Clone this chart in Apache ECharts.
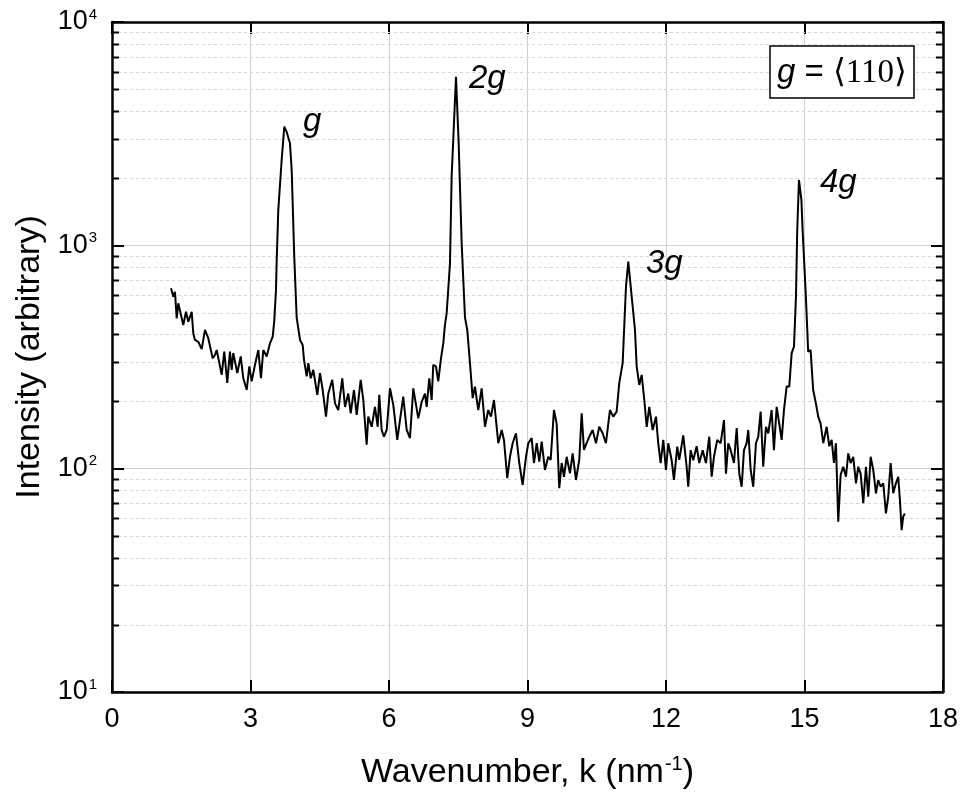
<!DOCTYPE html>
<html>
<head>
<meta charset="utf-8">
<script src="https://cdn.jsdelivr.net/npm/echarts@6/dist/echarts.min.js"></script>
<style>
html,body{margin:0;padding:0;background:#fff;}
#chart{width:962px;height:793px;}
</style>
</head>
<body>
<div id="chart"></div>
<script>
// ---- data ----
const wavenumber = [1.278,1.328,1.364,1.401,1.436,1.473,1.544,1.603,1.653,1.726,1.761,1.797,1.869,1.943,2.014,2.085,2.181,2.231,2.268,2.376,2.432,2.497,2.555,2.593,2.627,2.714,2.788,2.844,2.918,2.974,3.026,3.097,3.169,3.227,3.277,3.351,3.422,3.481,3.515,3.552,3.567,3.602,3.675,3.732,3.784,3.855,3.892,3.948,4.000,4.073,4.130,4.159,4.217,4.252,4.304,4.360,4.447,4.505,4.564,4.635,4.685,4.771,4.830,4.901,4.988,5.047,5.118,5.170,5.241,5.300,5.387,5.443,5.516,5.551,5.625,5.696,5.755,5.789,5.841,5.891,5.950,6.021,6.093,6.179,6.238,6.309,6.383,6.454,6.526,6.634,6.708,6.779,6.816,6.872,6.924,6.959,7.017,7.067,7.126,7.176,7.212,7.249,7.321,7.357,7.451,7.509,7.574,7.646,7.695,7.754,7.812,7.862,7.934,8.007,8.079,8.150,8.209,8.274,8.367,8.441,8.490,8.562,8.620,8.678,8.750,8.822,8.895,8.967,9.017,9.090,9.140,9.199,9.255,9.307,9.378,9.450,9.502,9.573,9.632,9.688,9.740,9.790,9.848,9.920,9.978,10.050,10.121,10.173,10.223,10.281,10.338,10.411,10.483,10.554,10.628,10.699,10.786,10.857,10.931,10.988,11.061,11.133,11.183,11.257,11.328,11.365,11.421,11.473,11.530,11.582,11.638,11.711,11.783,11.832,11.884,11.941,11.999,12.049,12.122,12.172,12.244,12.287,12.374,12.447,12.482,12.534,12.590,12.664,12.720,12.794,12.865,12.937,12.989,13.039,13.110,13.184,13.256,13.299,13.349,13.401,13.472,13.531,13.587,13.639,13.689,13.747,13.782,13.834,13.890,13.948,13.998,14.050,14.106,14.165,14.215,14.288,14.338,14.397,14.453,14.505,14.555,14.613,14.670,14.722,14.772,14.815,14.843,14.880,14.933,14.959,15.030,15.080,15.132,15.188,15.247,15.297,15.349,15.406,15.480,15.536,15.588,15.638,15.681,15.731,15.783,15.839,15.898,15.948,16.000,16.056,16.115,16.164,16.216,16.273,16.331,16.381,16.433,16.489,16.548,16.597,16.649,16.706,16.764,16.814,16.866,16.922,16.980,17.030,17.067,17.104,17.138,17.173];
const intensity = [642,589,620,471,550,552,440,504,455,504,404,377,370,343,418,384,312,323,340,263,334,242,334,277,329,268,318,254,225,287,246,292,340,254,340,318,364,390,460,630,850,1442,2411,3400,3220,2865,2178,889,475,377,358,307,259,297,254,277,214,268,225,171,217,250,196,183,254,189,217,177,225,174,250,203,128,171,154,189,154,214,149,139,149,229,193,134.5,165,210,149,137,229,168,199,217,189,254,203,292,287,246,312,364,440,497,830,2032,5690,2865,1021,475,418,297,207,233,183,229,154,183,171,203,130,149,134.5,90.6,113,130,144,106,84.5,113,130,137,106,130,107.5,132,98.7,113,109.4,183,159,81.7,106,92,113,95.4,117,89,109.4,177,121.3,130,139,149,130,154,144,130,183,171,180,242,297,653,845,589,418,287,237,263,203,154,189,149,171,130,106,134.5,98.7,130,109.4,89,125.5,109.4,141,102,83,121,109,126,106,121,106,139,92,113,134.5,130,165,95,130,121,106,152,95,83,121,130,149,98.7,83,130,139,180,102,154,144,183,121,189,159,134.5,183,233,233,329,352,589,1172,1963,1596,1172,589,334,340,225,196,171,159,130,154,126,134.5,106,130,57.9,93.9,102,92,117,106,113,86,102,95,70,102,75,113,98.7,77.6,89,83,86,63,75,106,77.6,86,92,72.4,53,61,63];
const xTicks = [0, 3, 6, 9, 12, 15, 18];
const minorY = [20,30,40,50,60,70,80,90,200,300,400,500,600,700,800,900,2000,3000,4000,5000,6000,7000,8000,9000];
const peakLabels = ['g', '2g', '3g', '4g'];
const boxLabel = ['g', ' = ', '\u27E8110\u27E9'];
const xName = ['Wavenumber, k (nm', '-1', ')'];
const yName = 'Intensity (arbitrary)';

const X_MIN = xTicks[0], X_MAX = xTicks[xTicks.length - 1];
const FONT = 'Liberation Sans, Arial, sans-serif';
const pts = wavenumber.map((x, i) => [x, intensity[i]]);

const chart = echarts.init(document.getElementById('chart'), null, {renderer: 'canvas'});

const axisLineStyle = {color: '#000', width: 2.5};
const tickStyle = {color: '#000', width: 2};

const option = {
  animation: false,
  backgroundColor: '#fff',
  grid: {left: 112, right: 19, top: 22, bottom: 101, containLabel: false, outerBoundsMode: 'none'},
  xAxis: [{
    type: 'value', min: X_MIN, max: X_MAX, interval: 3, position: 'bottom',
    name: '{a|' + xName[0] + '}{s|' + xName[1] + '}{a|' + xName[2] + '}',
    nameLocation: 'middle', nameGap: 62,
    nameTextStyle: {rich: {
      a: {fontSize: 34, fontFamily: FONT, color: '#000', lineHeight: 38},
      s: {fontSize: 20, fontFamily: FONT, color: '#000', verticalAlign: 'top', lineHeight: 38, padding:[0,0,0,1]}
    }},
    axisLine: {show: true, onZero: false, lineStyle: axisLineStyle},
    axisTick: {show: true, inside: true, length: 12, lineStyle: tickStyle},
    axisLabel: {fontSize: 27, fontFamily: FONT, color: '#000', margin: 14},
    splitLine: {show: true, lineStyle: {color: '#cfcfcf', width: 1}}
  }, {
    type: 'value', min: X_MIN, max: X_MAX, interval: 3, position: 'top',
    axisLine: {show: true, onZero: false, lineStyle: axisLineStyle},
    axisTick: {show: true, inside: true, length: 12, lineStyle: tickStyle},
    axisLabel: {show: false},
    splitLine: {show: false}
  }],
  yAxis: [{
    type: 'log', logBase: 10, min: 10, max: 10000, position: 'left',
    name: yName, nameLocation: 'middle', nameGap: 64, nameRotate: 90,
    nameTextStyle: {fontSize: 34, fontFamily: FONT, color: '#000'},
    axisLine: {show: true, onZero: false, lineStyle: axisLineStyle},
    axisTick: {show: true, inside: true, length: 12, lineStyle: tickStyle},
    axisLabel: {
      margin: 15,
      formatter: v => '{b|10}{s|' + Math.round(Math.log10(v)) + '}',
      rich: {
        b: {fontSize: 27, fontFamily: FONT, color: '#000', lineHeight: 30},
        s: {fontSize: 15, fontFamily: FONT, color: '#000', verticalAlign: 'top', lineHeight: 30, padding: [0,0,0,1]}
      }
    },
    splitLine: {show: true, lineStyle: {color: '#cfcfcf', width: 1}}
  }, {
    type: 'log', logBase: 10, min: 10, max: 10000, position: 'right',
    axisLine: {show: true, onZero: false, lineStyle: axisLineStyle},
    axisTick: {show: true, inside: true, length: 12, lineStyle: tickStyle},
    axisLabel: {show: false},
    splitLine: {show: false}
  }],
  series: [{
    type: 'custom', xAxisIndex: 0, yAxisIndex: 0, silent: true, z: 1, clip: false,
    data: minorY.map(v => [X_MIN, v]),
    renderItem: (params, api) => {
      const v = api.value(1);
      const p0 = api.coord([X_MIN, v]);
      const p1 = api.coord([X_MAX, v]);
      const y = Math.round(p0[1]) + 0.5;
      return {type: 'group', children: [
        {type: 'line', shape: {x1: p0[0], y1: y, x2: p1[0], y2: y}, style: {stroke: '#d6d6d6', lineWidth: 1, lineDash: [3, 3]}},
        {type: 'line', shape: {x1: p0[0], y1: y, x2: p0[0] + 7, y2: y}, style: {stroke: '#000', lineWidth: 2}},
        {type: 'line', shape: {x1: p1[0] - 7, y1: y, x2: p1[0], y2: y}, style: {stroke: '#000', lineWidth: 2}}
      ]};
    }
  }, {
    type: 'line', xAxisIndex: 0, yAxisIndex: 0, data: pts, showSymbol: false, symbol: 'none',
    lineStyle: {color: '#000', width: 2}, z: 5, silent: true
  }],
  graphic: [
    {type: 'text', x: 303, y: 122, z: 10, style: {text: peakLabels[0], fontSize: 33, fontStyle: 'italic', fontFamily: FONT, fill: '#000', align: 'left', verticalAlign: 'middle'}},
    {type: 'text', x: 469, y: 79, z: 10, style: {text: peakLabels[1], fontSize: 33, fontStyle: 'italic', fontFamily: FONT, fill: '#000', align: 'left', verticalAlign: 'middle'}},
    {type: 'text', x: 646, y: 264, z: 10, style: {text: peakLabels[2], fontSize: 33, fontStyle: 'italic', fontFamily: FONT, fill: '#000', align: 'left', verticalAlign: 'middle'}},
    {type: 'text', x: 820, y: 183, z: 10, style: {text: peakLabels[3], fontSize: 33, fontStyle: 'italic', fontFamily: FONT, fill: '#000', align: 'left', verticalAlign: 'middle'}},
    {type: 'rect', z: 10, shape: {x: 770, y: 46, width: 144, height: 52}, style: {fill: '#fff', stroke: '#000', lineWidth: 1.5}},
    {type: 'text', x: 842, y: 73, z: 11, style: {
      text: '{i|' + boxLabel[0] + '}{n|' + boxLabel[1] + '}{t|' + boxLabel[2] + '}',
      align: 'center', verticalAlign: 'middle',
      rich: {
        i: {fontSize: 33, fontStyle: 'italic', fontFamily: FONT, fill: '#000'},
        n: {fontSize: 33, fontFamily: FONT, fill: '#000'},
        t: {fontSize: 33, fontFamily: 'Liberation Serif, DejaVu Serif, serif', fill: '#000'}
      }
    }}
  ]
};
chart.setOption(option);
</script>
</body>
</html>
